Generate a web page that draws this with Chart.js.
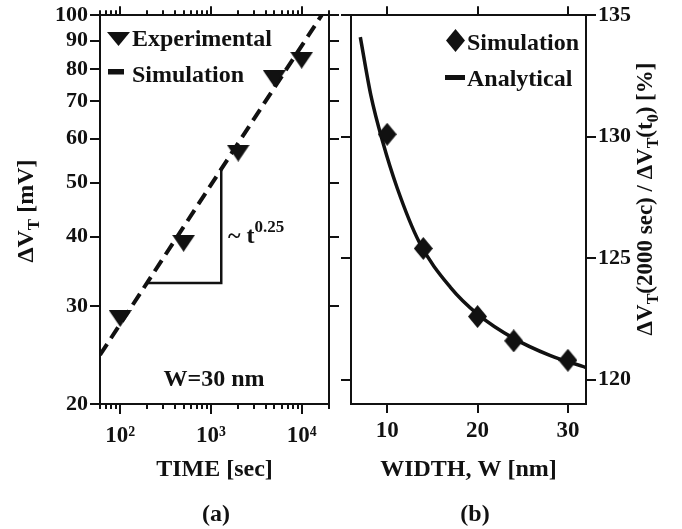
<!DOCTYPE html>
<html><head><meta charset="utf-8">
<script src="https://cdn.jsdelivr.net/npm/chart.js@4/dist/chart.umd.min.js"></script>
<style>
html,body{margin:0;padding:0;background:#fff;}
#wrap{position:relative;width:682px;height:529px;background:#fff;overflow:hidden;}
canvas{position:absolute;top:0;}
#ca{left:0;} #cb{left:340px;}
</style></head><body>
<div id="wrap"><canvas id="ca" width="340" height="529"></canvas><canvas id="cb" width="342" height="529"></canvas></div>
<script>
// ---- data (a) ----
const timeExp = [100, 500, 2000, 5000, 10000];
const dvtExp = [28.5, 38.9, 56.5, 76.9, 83.0];
const timeSim = [60, 16600];
const dvtSim = [24.5, 100];
const guideTime = [200, 1300, 1300];
const guideDvt = [33.0, 33.0, 52.8];
const timeMajorTicks = [100, 1000, 10000];
const timeMajorLabels = ['10\u00B2', '10\u00B3', '10\u2074'];
const timeMinorTicks = [60, 70, 80, 90, 200, 300, 400, 500, 600, 700, 800, 900, 2000, 3000, 4000, 5000, 6000, 7000, 8000, 9000, 20000];
const dvtTicks = [20, 30, 40, 50, 60, 70, 80, 90, 100];
// ---- data (b) ----
const widthSim = [10, 14, 20, 24, 30];
const ratioSim = [130.1, 125.4, 122.6, 121.6, 120.8];
const widthAna = [7.03, 8.2, 9.5, 11.1, 13.5, 17.0, 20.0, 24.0, 28.0, 32.0];
const ratioAna = [134.1, 131.7, 129.8, 127.9, 125.7, 123.8, 122.7, 121.7, 121.0, 120.5];
const widthTicks = [10, 20, 30];
const ratioTicks = [120, 125, 130, 135];

const INK = '#111';
const FONT = '"Liberation Serif", "Times New Roman", serif';
Chart.defaults.font.family = FONT;
Chart.defaults.font.weight = 'bold';
Chart.defaults.color = INK;

function pts(xs, ys){ return xs.map((x,i)=>({x:x, y:ys[i]})); }
function gridOpts(len){ return {display:true, drawOnChartArea:false, drawTicks:true, tickLength:len, tickWidth:2, tickColor:INK, color:INK, lineWidth:2}; }
function setTicks(vals){ return s => { s.ticks = vals.map(v => ({value:v})); }; }
const BORDER = {display:true, color:INK, width:2};
const NOBORDER = {display:false};

function triImg(w,h){ const c=document.createElement('canvas'); c.width=w; c.height=h; const g=c.getContext('2d'); g.fillStyle=INK; g.beginPath(); g.moveTo(0,0); g.lineTo(w,0); g.lineTo(w/2,h); g.closePath(); g.fill(); return c; }
function diaImg(w,h){ const c=document.createElement('canvas'); c.width=w; c.height=h; const g=c.getContext('2d'); g.fillStyle=INK; g.beginPath(); g.moveTo(w/2,0); g.lineTo(w,h/2); g.lineTo(w/2,h); g.lineTo(0,h/2); g.closePath(); g.fill(); return c; }

function rich(ctx, x, y, parts, rot, align){
  ctx.save(); ctx.translate(x,y); if (rot) ctx.rotate(rot);
  let total = 0; const ws = [];
  parts.forEach(p => { ctx.font = 'bold ' + p.s + 'px ' + FONT; const w = ctx.measureText(p.t).width; ws.push(w); total += w; });
  let cx = align === 'center' ? -total/2 : 0;
  ctx.textBaseline = 'alphabetic'; ctx.textAlign = 'left'; ctx.fillStyle = INK;
  parts.forEach((p,i) => { ctx.font = 'bold ' + p.s + 'px ' + FONT; ctx.fillText(p.t, cx, p.dy || 0); cx += ws[i]; });
  ctx.restore();
}

const textA = {id:'textA', afterDraw(chart){
  const c = chart.ctx; c.save(); c.fillStyle = INK;
  // y title
  rich(c, 33, 211, [{t:'\u0394V', s:24}, {t:'T', s:17, dy:6}, {t:' [mV]', s:24}], -Math.PI/2, 'center');
  // legend
  c.beginPath(); c.moveTo(107,32); c.lineTo(130,32); c.lineTo(118.5,46); c.closePath(); c.fill();
  c.fillRect(108, 69, 16, 5.5);
  rich(c, 132, 45.5, [{t:'Experimental', s:24}], 0, 'left');
  rich(c, 132, 81.5, [{t:'Simulation', s:24}], 0, 'left');
  // annotations
  rich(c, 228, 243, [{t:'~ t', s:24}, {t:'0.25', s:17, dy:-11}], 0, 'left');
  rich(c, 214, 386, [{t:'W=30 nm', s:24}], 0, 'center');
  rich(c, 216, 521, [{t:'(a)', s:24}], 0, 'center');
  c.restore();
}};

const textB = {id:'textB', afterDraw(chart){
  const c = chart.ctx; c.save(); c.fillStyle = INK;
  rich(c, 312, 199, [{t:'\u0394V', s:23}, {t:'T', s:16, dy:6}, {t:'(2000 sec) / \u0394V', s:23}, {t:'T', s:16, dy:6}, {t:'(t', s:23}, {t:'0', s:16, dy:6}, {t:') [%]', s:23}], -Math.PI/2, 'center');
  c.beginPath(); c.moveTo(115.5,29); c.lineTo(125,40.5); c.lineTo(115.5,52); c.lineTo(106,40.5); c.closePath(); c.fill();
  c.fillRect(105, 75, 20, 5);
  rich(c, 127, 50, [{t:'Simulation', s:24}], 0, 'left');
  rich(c, 127, 85.5, [{t:'Analytical', s:24}], 0, 'left');
  rich(c, 135, 521, [{t:'(b)', s:24}], 0, 'center');
  c.restore();
}};

const commonOpts = {responsive:false, animation:false, devicePixelRatio:1,
  plugins:{legend:{display:false}, tooltip:{enabled:false}}};

new Chart(document.getElementById('ca'), {
  type:'scatter',
  data:{datasets:[
    {label:'Experimental', data:pts(timeExp, dvtExp), showLine:false, pointStyle:triImg(23,17), pointRadius:10, xAxisID:'x', yAxisID:'y', order:0},
    {label:'Simulation', data:pts(timeSim, dvtSim), showLine:true, borderColor:INK, borderWidth:4, borderDash:[13,7], pointRadius:0, xAxisID:'x', yAxisID:'y', order:1},
    {label:'slope', data:pts(guideTime, guideDvt), showLine:true, borderColor:INK, borderWidth:2.5, pointRadius:0, xAxisID:'x', yAxisID:'y', order:2}
  ]},
  options:Object.assign({}, commonOpts, {
    layout:{padding:{top:14, left:0, right:0, bottom:0}},
    scales:{
      x:{type:'logarithmic', position:'bottom', min:60, max:20000, weight:1,
        afterBuildTicks:setTicks(timeMajorTicks), afterFit:s=>{s.height=125;},
        grid:gridOpts(10), border:BORDER,
        ticks:{display:true, color:INK, font:{family:FONT, size:23, weight:'bold'}, padding:8, maxRotation:0, autoSkip:false,
          callback:(v)=>timeMajorLabels[timeMajorTicks.indexOf(v)]},
        title:{display:true, text:'TIME [sec]', color:INK, font:{family:FONT, size:24, weight:'bold'}, padding:{top:0, bottom:45}}},
      xm:{type:'logarithmic', position:'bottom', min:60, max:20000, weight:0,
        afterBuildTicks:setTicks(timeMinorTicks), afterFit:s=>{s.height=0;},
        grid:gridOpts(5), border:NOBORDER, ticks:{display:false}},
      xt:{type:'logarithmic', position:'top', min:60, max:20000, weight:0,
        afterBuildTicks:setTicks(timeMajorTicks), afterFit:s=>{s.height=0;},
        grid:gridOpts(9), border:BORDER, ticks:{display:false}},
      xtm:{type:'logarithmic', position:'top', min:60, max:20000, weight:1,
        afterBuildTicks:setTicks(timeMinorTicks), afterFit:s=>{s.height=0;},
        grid:gridOpts(5), border:NOBORDER, ticks:{display:false}},
      y:{type:'logarithmic', position:'left', min:20, max:100,
        afterBuildTicks:setTicks(dvtTicks), afterFit:s=>{s.width=100;},
        grid:gridOpts(10), border:BORDER,
        ticks:{color:INK, font:{family:FONT, size:22, weight:'bold'}, padding:2, autoSkip:false, callback:(v)=>String(v)}},
      yr:{type:'logarithmic', position:'right', min:20, max:100,
        afterBuildTicks:setTicks(dvtTicks.filter(v=>v>20)), afterFit:s=>{s.width=10;},
        grid:gridOpts(10), border:BORDER, ticks:{display:false}}
    }
  }),
  plugins:[textA]
});

new Chart(document.getElementById('cb'), {
  type:'scatter',
  data:{datasets:[
    {label:'Simulation', data:pts(widthSim, ratioSim), showLine:false, pointStyle:diaImg(19,23), pointRadius:10, xAxisID:'x', yAxisID:'y', order:0},
    {label:'Analytical', data:pts(widthAna, ratioAna), showLine:true, borderColor:INK, borderWidth:3.5, tension:0.4, cubicInterpolationMode:'monotone', pointRadius:0, xAxisID:'x', yAxisID:'y', order:1}
  ]},
  options:Object.assign({}, commonOpts, {
    layout:{padding:{top:14, left:0, right:0, bottom:0}},
    scales:{
      x:{type:'linear', position:'bottom', min:6, max:32,
        afterBuildTicks:setTicks(widthTicks), afterFit:s=>{s.height=125;},
        grid:gridOpts(9), border:BORDER,
        ticks:{color:INK, font:{family:FONT, size:23, weight:'bold'}, padding:4, maxRotation:0, autoSkip:false, callback:(v)=>String(v)},
        title:{display:true, text:'WIDTH, W [nm]', color:INK, font:{family:FONT, size:24, weight:'bold'}, padding:{top:0, bottom:45}}},
      xt:{type:'linear', position:'top', min:6, max:32,
        afterBuildTicks:setTicks(widthTicks), afterFit:s=>{s.height=0;},
        grid:gridOpts(9), border:BORDER, ticks:{display:false}},
      y:{type:'linear', position:'right', min:119, max:135,
        afterBuildTicks:setTicks(ratioTicks), afterFit:s=>{s.width=96;},
        grid:gridOpts(10), border:BORDER,
        ticks:{color:INK, font:{family:FONT, size:22, weight:'bold'}, padding:2, autoSkip:false, callback:(v)=>String(v)}},
      yl:{type:'linear', position:'left', min:119, max:135,
        afterBuildTicks:setTicks(ratioTicks), afterFit:s=>{s.width=10;},
        grid:gridOpts(10), border:BORDER, ticks:{display:false}}
    }
  }),
  plugins:[textB]
});
</script>
</body></html>
